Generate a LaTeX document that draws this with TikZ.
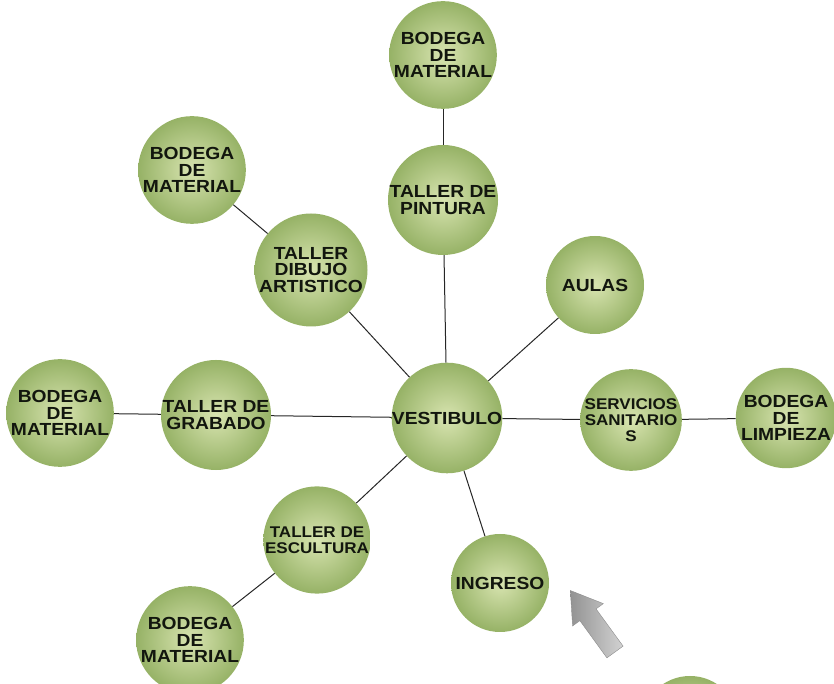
\documentclass[tikz,border=0pt]{standalone}
\usepackage{fontspec}
\usetikzlibrary{positioning}
\newfontfamily\roomfont{Liberation Sans}[FakeStretch=1.1]
\definecolor{roomlight}{RGB}{216,228,176}
\definecolor{roomdark}{RGB}{150,178,102}
\definecolor{roomtext}{RGB}{18,22,14}

\begin{document}
\begin{tikzpicture}[x=1pt, y=1pt, on grid,
  every node/.style={circle, minimum size=98pt, inner sep=0pt, align=center,
    inner color=roomlight, outer color=roomdark, text=roomtext,
    font=\roomfont\bfseries\fontsize{17.5}{16.5}\selectfont},
  smalltext/.style={font=\roomfont\bfseries\fontsize{15.5}{16}\selectfont},
  link/.style={draw=black!85, line width=1pt}]

  \useasboundingbox (0,0) rectangle (834,684);
  \clip (0,0) rectangle (834,684);

  \node (vest) at (447,266) {VESTIBULO};
  \node[above left=2pt and 4pt of vest, yshift=216pt] (pintura) {TALLER DE\\PINTURA};
  \node[above=145pt of pintura] (bodpint) {BODEGA\\DE\\MATERIAL};
  \node[above left=148pt and 136pt of vest] (dibujo) {TALLER\\DIBUJO\\ARTISTICO};
  \node[above left=100pt and 119pt of dibujo] (boddib) {BODEGA\\DE\\MATERIAL};
  \node[above right=133pt and 148pt of vest] (aulas) {AULAS};
  \node[left=231pt of vest, yshift=3pt] (grabado) {TALLER DE\\GRABADO};
  \node[left=156pt of grabado, yshift=2pt] (bodgrab) {BODEGA\\DE\\MATERIAL};
  \node[right=184pt of vest, yshift=-2pt, smalltext] (serv) {SERVICIOS\\SANITARIO\\S};
  \node[right=155pt of serv, yshift=2pt] (limp) {BODEGA\\DE\\LIMPIEZA};
  \node[below left=122pt and 130pt of vest, smalltext] (escul) {TALLER DE\\ESCULTURA};
  \node[below left=100pt and 127pt of escul] (bodesc) {BODEGA\\DE\\MATERIAL};
  \node[below right=165pt and 53pt of vest] (ingreso) {INGRESO};
  \node[below right=142pt and 190pt of ingreso] (extra) {};

  \draw[link] (bodpint) -- (pintura);
  \draw[link] (pintura) -- (vest);
  \draw[link] (boddib) -- (dibujo);
  \draw[link] (dibujo) -- (vest);
  \draw[link] (aulas) -- (vest);
  \draw[link] (bodgrab) -- (grabado);
  \draw[link] (grabado) -- (vest);
  \draw[link] (vest) -- (serv);
  \draw[link] (serv) -- (limp);
  \draw[link] (vest) -- (escul);
  \draw[link] (escul) -- (bodesc);
  \draw[link] (vest) -- (ingreso);

  % entrance arrow
  \begin{scope}[shift={(615,32)}, rotate=126]
    \shade[left color=gray!85, right color=gray!35, draw=gray!90]
      (0,-10) -- (46,-10) -- (46,-19) -- (76,0) -- (46,19) -- (46,10) -- (0,10) -- cycle;
  \end{scope}

\end{tikzpicture}
\end{document}
